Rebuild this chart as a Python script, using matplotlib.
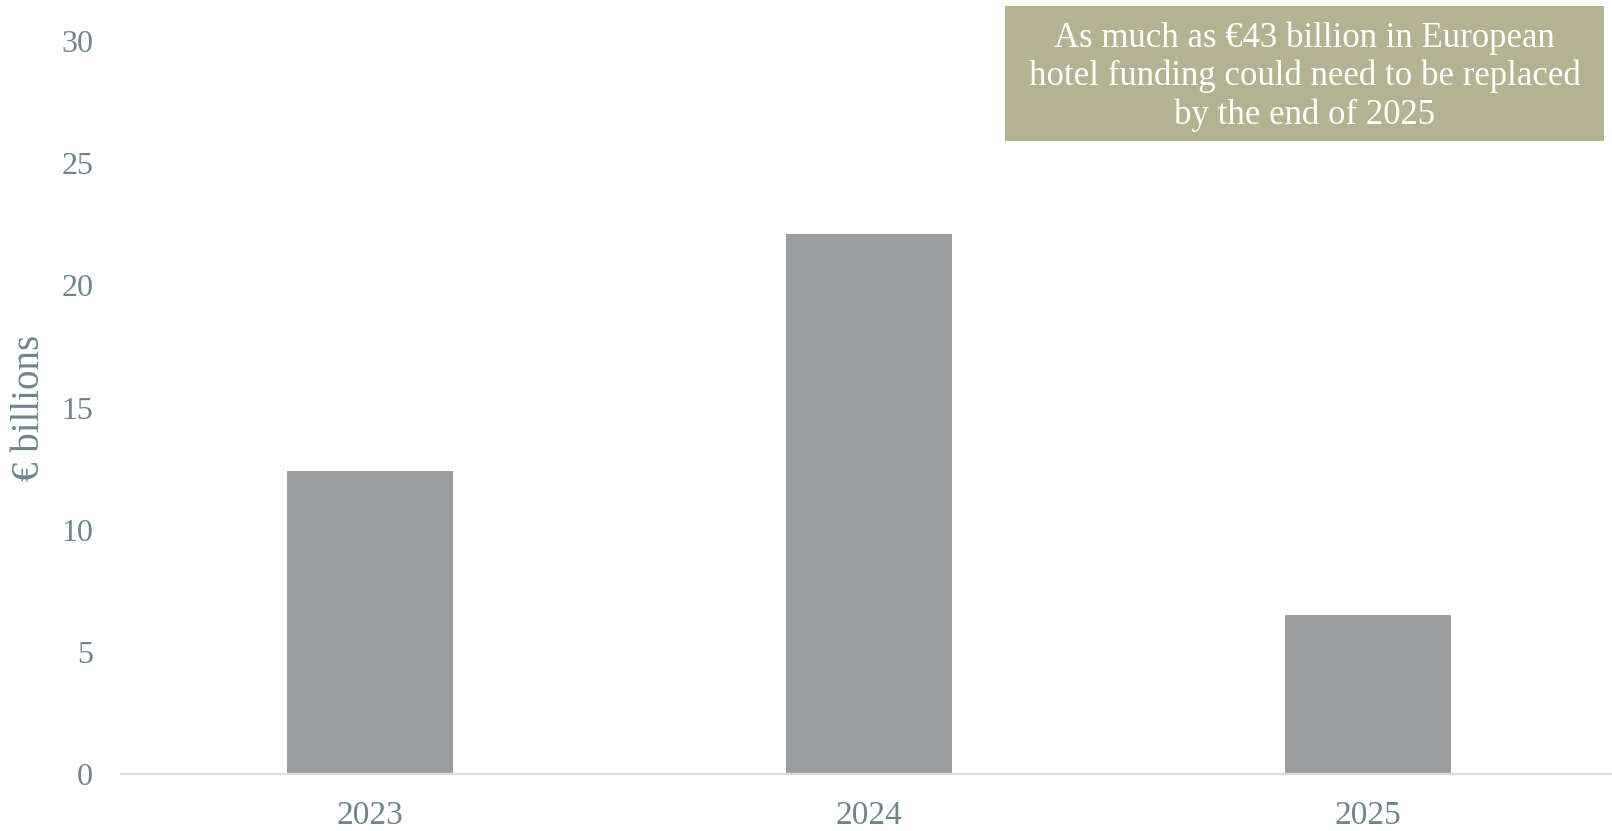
import matplotlib
matplotlib.use("Agg")
import matplotlib.pyplot as plt
from matplotlib.patches import Rectangle

# data
years = ["2023", "2024", "2025"]
funding = [12.4, 22.1, 6.5]  # EUR billions
y_ticks = [0, 5, 10, 15, 20, 25, 30]
note = "As much as €43 billion in European\nhotel funding could need to be replaced\nby the end of 2025"

plt.rcParams['font.family'] = ['Liberation Serif', 'DejaVu Serif']

bar_color = "#9a9ea1"
text_color = "#6f858d"
axis_color = "#d9dedf"
box_color = "#b3b293"

fig = plt.figure(figsize=(16.12, 8.31), dpi=100)
ax = fig.add_axes([121 / 1612, 57 / 831, 1 - 121 / 1612, 733 / 831])

x = range(len(years))
ax.bar(x, funding, width=0.333, color=bar_color)

ax.set_xlim(-0.5, 2.49)
ax.set_ylim(0, 30)
ax.set_yticks(y_ticks)
ax.set_xticks(list(x))
ax.set_xticklabels(years)

for s in ["top", "right", "left"]:
    ax.spines[s].set_visible(False)
ax.spines["bottom"].set_color(axis_color)
ax.spines["bottom"].set_linewidth(1.6)

ax.tick_params(axis="y", length=0, pad=20, labelsize=23, labelcolor=text_color)
ax.tick_params(axis="x", length=0, pad=19, labelsize=24, labelcolor=text_color)

# y axis title, placed in figure coords so it is not clipped
fig.text(30 / 1612, 1 - 408 / 831, "€ billions", rotation=90, ha="center",
         va="center", fontsize=28, color=text_color)

# callout box, top right
bx0, by0, bx1, by1 = 1005 / 1612, 1 - 141 / 831, 1604 / 1612, 1 - 6 / 831
fig.patches.append(Rectangle((bx0, by0), bx1 - bx0, by1 - by0,
                             transform=fig.transFigure, facecolor=box_color,
                             edgecolor="none", zorder=3))
fig.text((bx0 + bx1) / 2, (by0 + by1) / 2 - 3 / 831, note, ha="center", va="center",
         color="white", fontsize=25, linespacing=1.2, zorder=4)

fig.savefig("out.png", dpi=100)
